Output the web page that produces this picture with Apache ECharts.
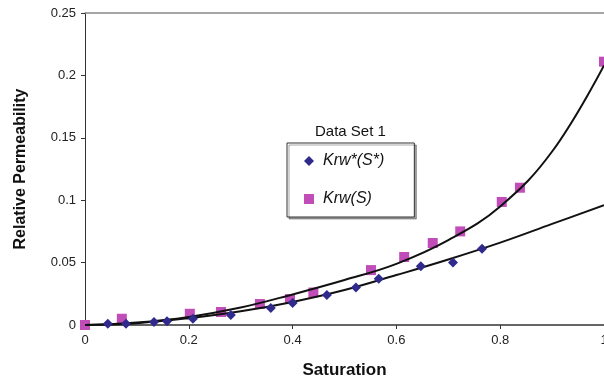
<!DOCTYPE html>
<html>
<head>
<meta charset="utf-8">
<script src="https://cdn.jsdelivr.net/npm/echarts@6/dist/echarts.min.js"></script>
<style>
  html, body { margin: 0; padding: 0; background: #fff; }
  #chart { width: 604px; height: 384px; }
</style>
</head>
<body>
<div id="chart"></div>
<script>
// Krw*(S*) points (diamonds)
const starS = [0.044, 0.079, 0.133, 0.158, 0.208, 0.281, 0.358, 0.40, 0.466, 0.522, 0.566, 0.647, 0.709, 0.765];
const starK = [0.001, 0.001, 0.0025, 0.003, 0.005, 0.008, 0.0136, 0.0176, 0.024, 0.030, 0.037, 0.047, 0.050, 0.061];

// Krw(S) points (squares)
const satS = [0, 0.071, 0.202, 0.262, 0.337, 0.395, 0.44, 0.551, 0.615, 0.67, 0.723, 0.803, 0.838, 1.0];
const satK = [0, 0.005, 0.009, 0.0104, 0.0168, 0.0208, 0.026, 0.044, 0.0545, 0.0657, 0.075, 0.0986, 0.11, 0.211];

// trend lines
const trendS = [0, 0.1, 0.2, 0.3, 0.4, 0.5, 0.6, 0.7, 0.8, 0.9, 1.0];
const upperK = [0, 0.002, 0.0065, 0.014, 0.0245, 0.036, 0.049, 0.068, 0.095, 0.139, 0.208];
const lowerK = [0, 0.0015, 0.0055, 0.011, 0.0185, 0.028, 0.040, 0.0525, 0.066, 0.081, 0.096];

const font = 'Liberation Sans, Arial, sans-serif';
const zip = (a, b) => a.map((v, i) => [v, b[i]]);

const chart = echarts.init(document.getElementById('chart'));

const option = {
  animation: false,
  textStyle: { fontFamily: font },
  title: {
    text: 'Data Set 1',
    left: 310,
    top: 119,
    textStyle: { fontSize: 15, fontWeight: 'normal', color: '#111', fontFamily: font }
  },
  legend: {
    data: ['Krw*(S*)', 'Krw(S)'],
    orient: 'vertical',
    left: 287,
    top: 143,
    padding: [10, 30, 10, 17],
    itemGap: 22,
    itemWidth: 10,
    itemHeight: 10,
    borderColor: '#333',
    borderWidth: 1,
    backgroundColor: '#fff',
    shadowColor: 'rgba(0,0,0,0.35)',
    shadowOffsetX: 2,
    shadowOffsetY: 2,
    shadowBlur: 0,
    textStyle: { fontSize: 16, fontStyle: 'italic', color: '#111', fontFamily: font, padding: [0, 0, 0, 4] }
  },
  grid: { left: 85, right: 0, top: 13, bottom: 59, outerBoundsMode: 'none' },
  xAxis: [
    {
      type: 'value',
      min: 0,
      max: 1,
      interval: 0.2,
      name: 'Saturation',
      nameLocation: 'middle',
      nameGap: 37,
      nameTextStyle: { fontSize: 17, fontWeight: 'bold', color: '#111', fontFamily: font },
      axisLine: { show: true, lineStyle: { color: '#333', width: 1.5 } },
      axisTick: { show: true, length: 4, lineStyle: { color: '#333' } },
      axisLabel: { fontSize: 13, color: '#222', margin: 9, hideOverlap: false },
      splitLine: { show: false }
    },
    {
      type: 'value',
      position: 'top',
      min: 0,
      max: 1,
      axisLine: { show: true, lineStyle: { color: '#888', width: 1.5 } },
      axisTick: { show: false },
      axisLabel: { show: false },
      splitLine: { show: false }
    }
  ],
  yAxis: {
    type: 'value',
    min: 0,
    max: 0.25,
    interval: 0.05,
    name: 'Relative Permeability',
    nameLocation: 'middle',
    nameGap: 56,
    nameTextStyle: { fontSize: 16, fontWeight: 'bold', color: '#111', fontFamily: font },
    axisLine: { show: true, lineStyle: { color: '#333', width: 1 } },
    axisTick: { show: true, length: 4, lineStyle: { color: '#333' } },
    axisLabel: { fontSize: 13, color: '#222', margin: 9 },
    splitLine: { show: false }
  },
  series: [
    {
      name: 'upper trend',
      type: 'line',
      data: zip(trendS, upperK),
      smooth: 0.4,
      showSymbol: false,
      silent: true,
      lineStyle: { color: '#111', width: 2 },
      z: 3
    },
    {
      name: 'lower trend',
      type: 'line',
      data: zip(trendS, lowerK),
      smooth: 0.4,
      showSymbol: false,
      silent: true,
      lineStyle: { color: '#111', width: 2 },
      z: 3
    },
    {
      name: 'Krw*(S*)',
      type: 'scatter',
      symbol: 'diamond',
      symbolSize: 10,
      data: zip(starS, starK),
      itemStyle: { color: '#2f2a8c', opacity: 1 },
      z: 4
    },
    {
      name: 'Krw(S)',
      type: 'scatter',
      symbol: 'rect',
      symbolSize: 10,
      data: zip(satS, satK),
      itemStyle: { color: '#c04db8', opacity: 1 },
      z: 2
    }
  ]
};

chart.setOption(option);
</script>
</body>
</html>
